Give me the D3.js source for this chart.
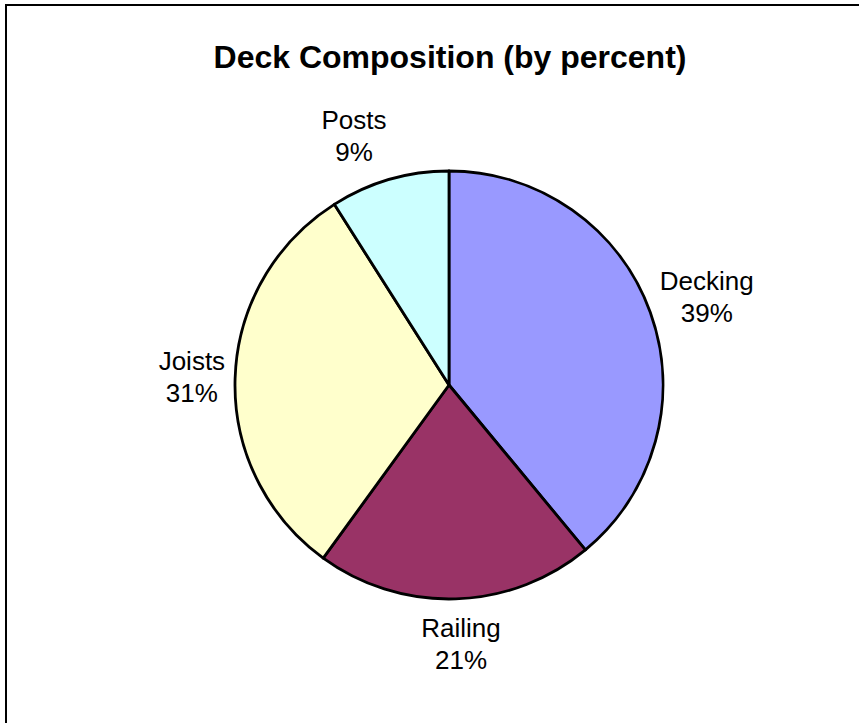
<!DOCTYPE html>
<html>
<head>
<meta charset="utf-8">
<script src="https://cdn.jsdelivr.net/npm/d3@7"></script>
<style>
  body { margin: 0; background: #fff; }
  text { font-family: "Liberation Sans", Arial, sans-serif; }
</style>
</head>
<body>
<div id="chart"></div>
<script>
// data
let categories = ["Decking", "Railing", "Joists", "Posts"];
let percents = [39, 21, 31, 9];
let colors = ["#9999ff", "#993366", "#ffffcc", "#ccffff"];
let title = "Deck Composition (by percent)";

let width = 859;
let height = 723;
let cx = 449, cy = 385, radius = 214;

var svg = d3.select("#chart").append("svg")
    .attr("width", width)
    .attr("height", height);

// outer frame (right and bottom edges fall off the page)
svg.append("rect")
    .attr("x", 6)
    .attr("y", 5)
    .attr("width", width + 20)
    .attr("height", height + 20)
    .attr("fill", "none")
    .attr("stroke", "#000")
    .attr("stroke-width", 2);

svg.append("text")
    .attr("x", 450)
    .attr("y", 68)
    .attr("text-anchor", "middle")
    .attr("font-size", 32)
    .attr("font-weight", "bold")
    .text(title);

let pie = d3.pie().sort(null).value(d => d)(percents);
let arc = d3.arc().innerRadius(0).outerRadius(radius);

var g = svg.append("g").attr("transform", `translate(${cx},${cy})`);

g.selectAll("path")
    .data(pie)
    .join("path")
    .attr("d", arc)
    .attr("fill", (d, i) => colors[i])
    .attr("stroke", "#000")
    .attr("stroke-width", 2.8)
    .attr("stroke-linejoin", "round");

// labels: two lines, box pushed just outside the rim
let fontSize = 26, lineH = 32, gapX = 10, gapY = 20;
let capH = fontSize * 0.716;
pie.forEach((d, i) => {
    let a = (d.startAngle + d.endAngle) / 2;
    let s = Math.sin(a), c = Math.cos(a);
    let lbl = g.append("text")
        .attr("text-anchor", "middle")
        .attr("font-size", fontSize);
    lbl.append("tspan").attr("x", 0).attr("dy", 0).text(categories[i]);
    lbl.append("tspan").attr("x", 0).attr("dy", lineH).text(percents[i] + "%");
    let w = lbl.node().getBBox().width;
    let h = lineH + capH;
    let px = s * (radius + gapX), py = -c * (radius + gapY);
    let mx = px + (w / 2) * Math.max(-1, Math.min(1, s * 4));
    let my = py - (h / 2) * c;
    // first baseline so that the visual box is centred on my
    let base = my - (lineH - capH) / 2;
    lbl.attr("transform", `translate(${mx},${base})`);
});
</script>
</body>
</html>
